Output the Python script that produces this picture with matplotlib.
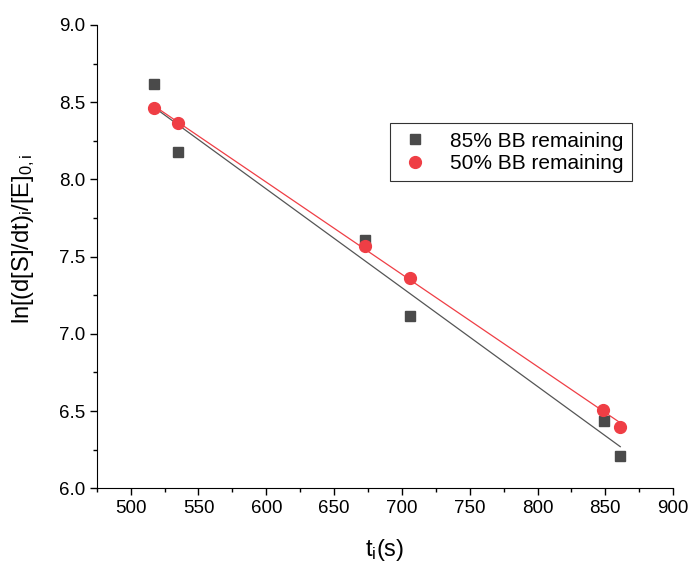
import matplotlib
matplotlib.use('Agg')
import matplotlib.pyplot as plt
from matplotlib.ticker import MultipleLocator
import numpy as np

plt.rcParams['font.family'] = ['Liberation Sans', 'DejaVu Sans']
plt.rcParams['mathtext.fontset'] = 'custom'
plt.rcParams['mathtext.rm'] = 'Liberation Sans'
plt.rcParams['mathtext.it'] = 'Liberation Sans'

square_color = '#4a4a4a'
circle_color = '#ef3e45'

t_85 = [517, 535, 673, 706, 849, 861]
y_85 = [8.62, 8.18, 7.61, 7.115, 6.435, 6.21]
t_50 = [517, 535, 673, 706, 848, 861]
y_50 = [8.465, 8.365, 7.57, 7.36, 6.51, 6.40]

fig = plt.figure(figsize=(6.89, 5.63), dpi=100)
ax = fig.add_axes([0.1404, 0.1327, 0.8366, 0.8229])

# linear fits
for t, y, c in [(t_85, y_85, '#555555'), (t_50, y_50, circle_color)]:
    k, b = np.polyfit(t, y, 1)
    xs = np.array([min(t), max(t)])
    ax.plot(xs, k * xs + b, color=c, lw=0.9, zorder=1)

ax.plot(t_85, y_85, 's', ms=7.5, color=square_color, ls='none',
        label='85% BB remaining', zorder=3)
ax.plot(t_50, y_50, 'o', ms=8.5, color=circle_color, ls='none',
        label='50% BB remaining', zorder=4)

ax.set_xlim(475, 900)
ax.set_ylim(6.0, 9.0)
ax.xaxis.set_major_locator(MultipleLocator(50))
ax.xaxis.set_minor_locator(MultipleLocator(25))
ax.yaxis.set_major_locator(MultipleLocator(0.5))
ax.yaxis.set_minor_locator(MultipleLocator(0.25))
ax.yaxis.set_major_formatter(plt.FormatStrFormatter('%.1f'))
ax.tick_params(which='major', direction='out', length=5, width=1, labelsize=13.5)
ax.tick_params(which='minor', direction='out', length=3, width=1)
for s in ['top', 'right']:
    ax.spines[s].set_visible(False)

ax.set_xlabel('t$_\\mathregular{i}$(s)', fontsize=17, labelpad=14)
ax.set_ylabel('ln[(d[S]/dt)$_\\mathregular{i}$/[E]$_\\mathregular{0,i}$', fontsize=17)
ax.yaxis.set_label_coords(-0.103, 0.538)

leg = ax.legend(loc='upper left', bbox_to_anchor=(0.49, 0.81), fontsize=15,
                frameon=True, fancybox=False, edgecolor='black',
                handletextpad=0.9, borderpad=0.4, labelspacing=0.15,
                handlelength=1.6)
leg.get_frame().set_linewidth(0.8)

fig.savefig('out.png', dpi=100)
